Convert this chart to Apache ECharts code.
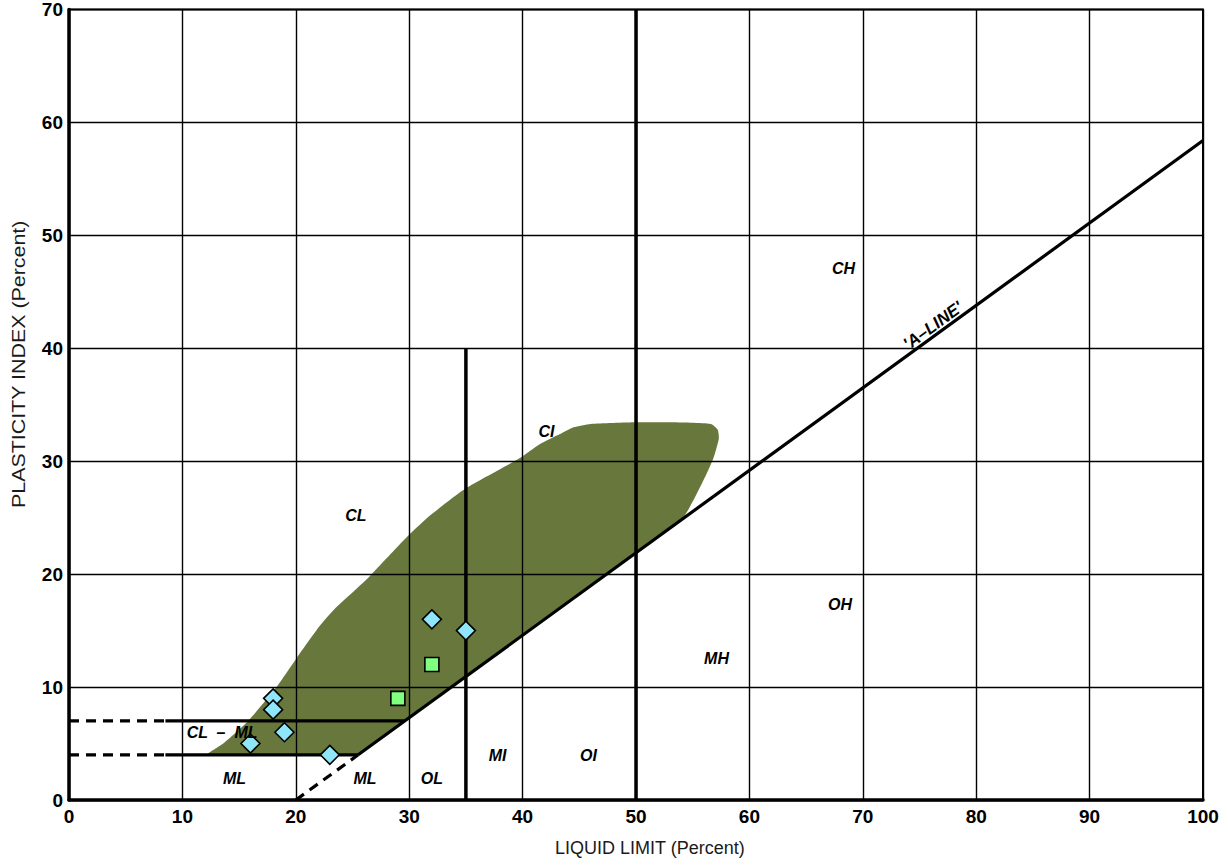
<!DOCTYPE html>
<html>
<head>
<meta charset="utf-8">
<script src="https://cdn.jsdelivr.net/npm/echarts@6/dist/echarts.min.js"></script>
<style>
html,body{margin:0;padding:0;background:#fff;}
#chart{width:1228px;height:865px;}
</style>
</head>
<body>
<div id="chart"></div>
<script>
// ---- data ----
const xTicks = [0,10,20,30,40,50,60,70,80,90,100];
const yTicks = [0,10,20,30,40,50,60,70];
// green envelope (LL, PI)
const envelope = [
  [12.2,4.0],[16,4.0],[20,4.0],[24,4.0],[25.5,4.0],[27.5,5.5],[30,7.3],[35,10.95],[40,14.6],[45,18.25],[50,21.9],[53,24.1],[54.3,25.2],
  [55.8,28.0],[56.8,30.2],[57.3,32.0],[57.2,32.8],[56.6,33.3],[53,33.45],[50,33.45],[46,33.3],
  [44.5,33.0],[43.3,32.4],[41.5,31.5],[39.8,30.3],[35,27.6],[31.6,25.0],[29.6,23.1],[28.0,21.4],[26.5,19.8],
  [24.8,18.2],[23.4,16.9],[22.1,15.4],[20.1,12.6],[18.3,10.0],[15.8,7.0],[13.6,5.0]
];
const aLine = [[25.5,4],[100,58.4]];
const aLineDashed = [[20,0],[25.5,4]];
const line7 = [[8.5,7],[29.6,7]];
const line4 = [[8.5,4],[25.5,4]];
const line7Dashed = [[0,7],[8.5,7]];
const line4Dashed = [[0,4],[8.5,4]];
const ll35 = [[35,0],[35,40]];
const ll50 = [[50,0],[50,70]];
const diamonds = [[18,9],[18,8],[19,6],[16,5],[23,4],[32,16],[35,15]];
const squares = [[29,9],[32,12]];
const zoneLabels = [
  ['CH',68.3,47.1],['CI',42.1,32.6],['CL',25.3,25.2],['OH',68.0,17.3],['MH',57.1,12.5],
  ['CL  –  ML',13.5,6.0],['ML',14.6,1.9],['ML',26.1,1.9],['OL',32.0,1.9],['MI',37.8,3.9],['OI',45.8,3.9]
];
const aLineLabel = [["'A–LINE'",76.2,42.0]];

// ---- chart ----
const chart = echarts.init(document.getElementById('chart'), null, {renderer:'svg'});
const tickFont = {fontFamily:'"Liberation Sans",Arial,sans-serif', fontWeight:'bold', fontSize:19, color:'#000'};
const zoneFont = {fontFamily:'"Liberation Sans","DejaVu Sans",sans-serif', fontWeight:'bold', fontStyle:'italic', fontSize:16, color:'#000', opacity:1};

function seg(data, width, dashed){
  return {type:'line', data:data, symbol:'none', z:3, silent:true,
    lineStyle:{color:'#000', width:width, type: dashed ? [10,7] : 'solid', cap:'butt', opacity:1}};
}

const option = {
  animation:false,
  backgroundColor:'#fff',
  grid:{left:69,right:25,top:7,bottom:65,show:true,borderColor:'#000',borderWidth:2,backgroundColor:'transparent'},
  xAxis:{type:'value',min:0,max:100,interval:10,z:1.5,
    axisLine:{show:true,onZero:false,lineStyle:{color:'#000',width:3.5}},
    axisTick:{show:false},
    axisLabel:Object.assign({margin:7,formatter:v=>xTicks.includes(v)?String(v):''},tickFont),
    splitLine:{show:true,lineStyle:{color:'#000',width:1.4}}},
  yAxis:{type:'value',min:0,max:70,interval:10,z:1.5,
    axisLine:{show:true,onZero:false,lineStyle:{color:'#000',width:3.5}},
    axisTick:{show:false},
    axisLabel:Object.assign({margin:6,formatter:v=>yTicks.includes(v)?String(v):''},tickFont),
    splitLine:{show:true,lineStyle:{color:'#000',width:1.4}}},
  graphic:[
    {type:'text',left:555,top:839,z:10,style:{text:'LIQUID LIMIT (Percent)',font:'18px "Liberation Sans", Arial, sans-serif',fill:'#1a1a1a'}},
    {type:'text',x:10,y:508,rotation:Math.PI/2,scaleX:1.19,z:10,style:{text:'PLASTICITY INDEX (Percent)',font:'18px "Liberation Sans", Arial, sans-serif',fill:'#1a1a1a',textVerticalAlign:'top'}}
  ],
  series:[
    {type:'custom',z:1,silent:true,
      renderItem:function(params, api){
        const pts = envelope.map(p=>api.coord(p));
        return {type:'polygon',shape:{points:pts,smooth:0.2},style:{fill:'#68783c',stroke:'none'}};
      },
      data:[0]},
    seg(aLine,3.2,false),
    seg(aLineDashed,3.2,true),
    seg(line7,3.2,false),
    seg(line4,3.2,false),
    seg(line7Dashed,3.2,true),
    seg(line4Dashed,3.2,true),
    seg(ll35,3.5,false),
    seg(ll50,3.5,false),
    {type:'scatter',data:diamonds,symbol:'diamond',symbolSize:19,z:5,
      itemStyle:{color:'#8fe6f8',borderColor:'#000',borderWidth:1.6,opacity:1}},
    {type:'scatter',data:squares,symbol:'rect',symbolSize:14,z:5,
      itemStyle:{color:'#80ff80',borderColor:'#000',borderWidth:1.6,opacity:1}},
    {type:'scatter',data:zoneLabels.map(d=>({name:d[0],value:[d[1],d[2]]})),symbolSize:0,z:6,
      itemStyle:{opacity:1},
      label:Object.assign({show:true,position:'inside',formatter:p=>p.name},zoneFont)},
    {type:'scatter',data:aLineLabel.map(d=>({name:d[0],value:[d[1],d[2]]})),symbolSize:0,z:6,
      itemStyle:{opacity:1},
      label:Object.assign({show:true,position:'inside',rotate:36,formatter:p=>p.name},zoneFont,{fontSize:17})}
  ]
};
chart.setOption(option);
</script>
</body>
</html>
